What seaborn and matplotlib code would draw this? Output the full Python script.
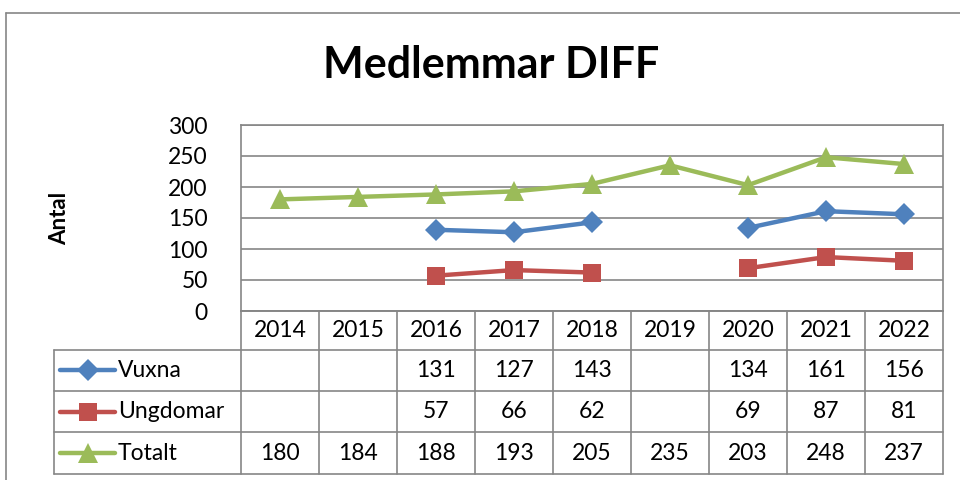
import numpy as np
import pandas as pd
import matplotlib
matplotlib.use("Agg")
import matplotlib.pyplot as plt
import seaborn as sns
from matplotlib.lines import Line2D

# Données
years = ["2014", "2015", "2016", "2017", "2018", "2019", "2020", "2021", "2022"]
vuxna = [np.nan, np.nan, 131, 127, 143, np.nan, 134, 161, 156]
ungdomar = [np.nan, np.nan, 57, 66, 62, np.nan, 69, 87, 81]
totalt = [180, 184, 188, 193, 205, 235, 203, 248, 237]
series_names = ["Vuxna", "Ungdomar", "Totalt"]
series_vals = [vuxna, ungdomar, totalt]

colors = ["#4F81BD", "#C0504D", "#9BBB59"]
markers = ["D", "s", "^"]
msizes = [11, 13, 14]
grid_col = "#868686"

sns.set_style("white")
plt.rcParams["font.family"] = ["Lato", "DejaVu Sans"]
plt.rcParams["text.color"] = "black"
plt.rcParams["ytick.color"] = "black"

W, H = 960, 480
fig = plt.figure(figsize=(9.6, 4.8), dpi=100)

def px(x0, y0, x1, y1):
    return [x0 / W, 1 - y1 / H, (x1 - x0) / W, (y1 - y0) / H]

# cadre extérieur
fig.add_artist(Line2D([6 / W, 6 / W], [0, 1 - 13 / H], transform=fig.transFigure, color=grid_col, lw=1.2))
fig.add_artist(Line2D([6 / W, 1], [1 - 13 / H, 1 - 13 / H], transform=fig.transFigure, color=grid_col, lw=1.2))

ax = fig.add_axes(px(241, 125, 943, 311))
xs = np.arange(len(years))
for name, vals, c, m, ms in zip(series_names, series_vals, colors, markers, msizes):
    v = np.array(vals, dtype=float)
    seg = np.cumsum(np.isnan(v))
    df = pd.DataFrame({"x": xs, "y": v, "seg": seg}).dropna()
    for _, g in df.groupby("seg"):
        sns.lineplot(data=g, x="x", y="y", ax=ax, color=c, lw=3.2, marker=m,
                     markersize=ms, markeredgewidth=0, legend=False)

ax.set_xlim(-0.5, len(years) - 0.5)
ax.set_ylim(0, 300)
ax.set_yticks(range(0, 301, 50))
ax.set_xticks([])
ax.set_xlabel("")
ax.set_ylabel("")
ax.grid(axis="y", color=grid_col, lw=1.2)
ax.grid(axis="x", visible=False)
for s in ax.spines.values():
    s.set_color(grid_col)
    s.set_linewidth(1.2)
ax.tick_params(axis="y", labelsize=16.5, length=0, pad=24, labelcolor="black")
ax.set_axisbelow(True)

fig.text(60 / W, 1 - 218 / H, "Antal", rotation=90, fontsize=16, fontweight="bold",
         ha="center", va="center")
fig.text(491 / W, 1 - 65 / H, "Medlemmar DIFF", fontsize=31, fontweight="bold",
         ha="center", va="center")

# Tableau de données
tax = fig.add_axes(px(54, 311, 943, 474))
colw = (943 - 241) / len(years)
lab_w = (241 - 54) / colw
tax.set_xlim(-0.5 - lab_w, len(years) - 0.5)
tax.set_ylim(4, 0)
tax.axis("off")
row_edges = [0, 0.95, 1.97, 2.98, 4]
kw = dict(color=grid_col, lw=1.2, clip_on=False)
# horizontales
tax.plot([-0.5, len(years) - 0.5], [0, 0], **kw)
for yv in row_edges[1:]:
    tax.plot([-0.5 - lab_w, len(years) - 0.5], [yv, yv], **kw)
# verticales
for i in range(len(years) + 1):
    tax.plot([i - 0.5, i - 0.5], [0, 4], **kw)
tax.plot([-0.5 - lab_w, -0.5 - lab_w], [row_edges[1], 4], **kw)

mid = lambda a, b: (a + b) / 2
fs = 16.5
for i, yr in enumerate(years):
    tax.text(i, mid(row_edges[0], row_edges[1]), yr, ha="center", va="center", fontsize=fs)
for r, (name, vals, c, m, ms) in enumerate(zip(series_names, series_vals, colors, markers, msizes)):
    yc = mid(row_edges[r + 1], row_edges[r + 2])
    for i, v in enumerate(vals):
        if not np.isnan(v):
            tax.text(i, yc, f"{int(v)}", ha="center", va="center", fontsize=fs)
    x0 = -0.5 - lab_w + 0.08
    tax.plot([x0, x0 + 0.7], [yc, yc], color=c, lw=3.2, clip_on=False)
    tax.plot([x0 + 0.35], [yc], marker=m, color=c, markersize=ms, markeredgewidth=0, clip_on=False)
    tax.text(x0 + 0.74, yc, name, ha="left", va="center", fontsize=fs)

fig.savefig("out.png", dpi=100)
